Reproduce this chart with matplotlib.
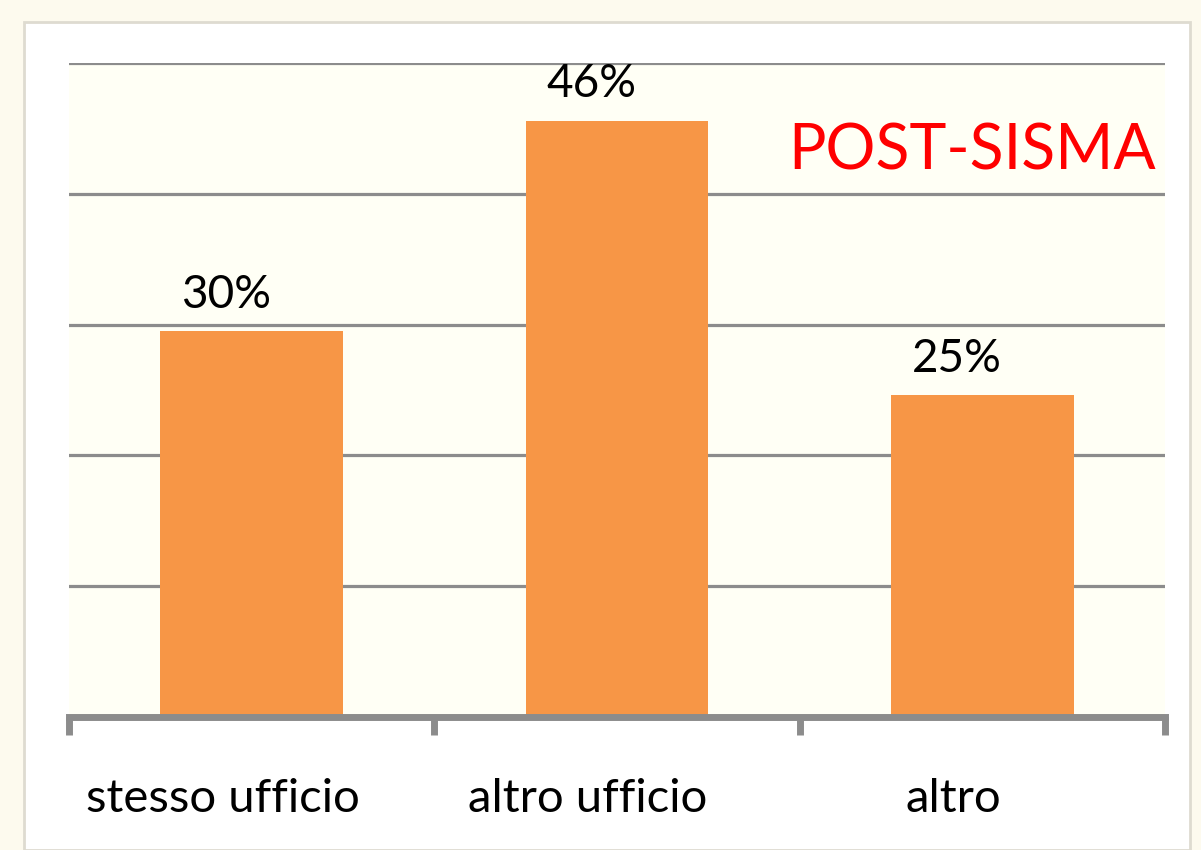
import matplotlib
matplotlib.use("Agg")
import matplotlib.pyplot as plt
from matplotlib.patches import Rectangle

categories = ["stesso ufficio", "altro ufficio", "altro"]
values = [29.5, 45.6, 24.6]
yticks = [0, 10, 20, 30, 40, 50]
title = "POST-SISMA"

FONT = ["Lato", "DejaVu Sans"]
plt.rcParams["font.family"] = FONT

fig = plt.figure(figsize=(12.01, 8.5), dpi=100)
fig.patch.set_facecolor("#fdfaee")
# white panel
fig.patches.append(Rectangle((24/1201, 0), (1190-24)/1201, 1 - 22/850,
                             transform=fig.transFigure, facecolor="white",
                             edgecolor="#dedbd0", linewidth=2, zorder=-10))

ax = fig.add_axes([69/1201, 1 - 717/850, (1165-69)/1201, (717-63)/850])
ax.set_zorder(5)
ax.set_facecolor("#fffff5")
x = list(range(len(categories)))
ax.bar(x, values, width=0.5, color="#f79646", zorder=2)
ax.set_xlim(-0.5, 2.5)
ax.set_ylim(0, 50)
ax.set_yticks(yticks)
ax.yaxis.grid(True, color="#8c8c8c", linewidth=2.3, zorder=1)
ax.set_axisbelow(True)
ax.tick_params(axis="y", length=0, labelleft=False)
for s in ["left", "right", "top"]:
    ax.spines[s].set_visible(False)
ax.spines["bottom"].set_color("#8c8c8c")
ax.spines["bottom"].set_linewidth(5)
ax.set_xticks([-0.5, 0.5, 1.5, 2.5])
ax.tick_params(axis="x", length=13, width=5, color="#8c8c8c", labelbottom=False)

for i, (c, v) in enumerate(zip(categories, values)):
    ax.text(i - 0.08, -0.125, c, transform=ax.get_xaxis_transform(),
            ha="center", va="center", fontsize=34, color="black")
    ax.annotate(f"{v:.0f}%", (i - 0.07, v), xytext=(0, 11), textcoords="offset points",
                ha="center", va="bottom", fontsize=33, color="black")

ax.text(0.9915, 1 - (170-63)/(717-63), title, transform=ax.transAxes, ha="right",
        va="baseline", fontsize=45, color="#ff0000")

fig.savefig("out.png", dpi=100, facecolor=fig.get_facecolor())
